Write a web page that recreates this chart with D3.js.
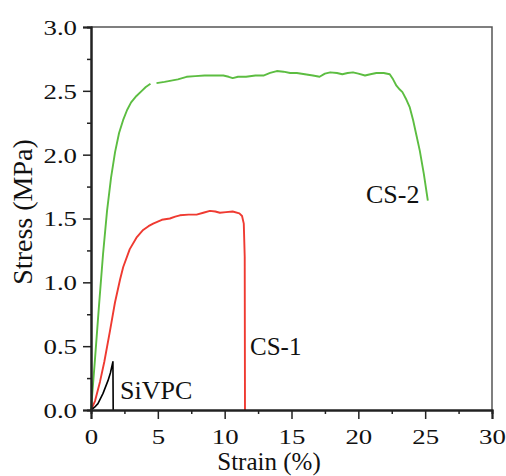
<!DOCTYPE html>
<html>
<head>
<meta charset="utf-8" />
<script src="https://d3js.org/d3.v7.min.js"></script>
<style>
  body { margin: 0; background: #fff; }
  svg text { font-family: "Liberation Serif", "Times New Roman", serif; fill: #111; }
</style>
</head>
<body>
<svg id="chart" width="506" height="476"></svg>
<script>
// CS-2 (green), null marks the small gap in the trace
var cs2Strain = [0, 0.3, 0.6, 0.9, 1.2, 1.5, 1.8, 2.1, 2.4, 2.7, 3.0, 3.4, 3.8, 4.1, 4.45, null,
  4.9, 5.5, 6.0, 6.5, 7.15, 7.8, 8.5, 9.3, 9.9, 10.3, 10.6, 11.0, 11.6, 12.3, 12.9, 13.4, 13.9,
  14.4, 14.9, 15.4, 16.0, 16.6, 17.1, 17.5, 17.9, 18.4, 18.8, 19.2, 19.6, 20.0, 20.5, 20.9,
  21.35, 21.9, 22.35, 22.6, 22.85, 23.1, 23.3, 23.6, 23.85, 24.1, 24.35, 24.6, 24.9, 25.2];
var cs2Stress = [0, 0.4, 0.82, 1.22, 1.56, 1.82, 2.02, 2.17, 2.27, 2.35, 2.41, 2.46, 2.5, 2.53, 2.555, null,
  2.56, 2.57, 2.58, 2.59, 2.61, 2.615, 2.62, 2.62, 2.62, 2.61, 2.6, 2.61, 2.61, 2.62, 2.62, 2.64, 2.655,
  2.65, 2.64, 2.64, 2.63, 2.62, 2.61, 2.635, 2.645, 2.64, 2.63, 2.64, 2.645, 2.635, 2.62, 2.63,
  2.64, 2.64, 2.63, 2.59, 2.54, 2.51, 2.49, 2.43, 2.37, 2.27, 2.15, 2.03, 1.85, 1.64];

// CS-1 (red)
var cs1Strain = [0, 0.3, 0.67, 1.0, 1.42, 1.79, 2.17, 2.41, 2.9, 3.4, 3.9, 4.3, 4.65, 5.3, 5.9,
  6.3, 6.65, 7.3, 7.9, 8.4, 8.9, 9.3, 9.64, 10.1, 10.6, 11.1, 11.3, 11.43, 11.5, 11.52];
var cs1Stress = [0, 0.07, 0.22, 0.38, 0.62, 0.84, 1.02, 1.12, 1.26, 1.35, 1.41, 1.44, 1.46, 1.49, 1.5,
  1.515, 1.525, 1.53, 1.53, 1.545, 1.56, 1.555, 1.545, 1.55, 1.555, 1.54, 1.52, 1.46, 1.2, 0];

// SiVPC (black)
var siStrain = [0, 0.25, 0.52, 0.9, 1.27, 1.45, 1.64, 1.66];
var siStress = [0, 0.02, 0.05, 0.13, 0.23, 0.29, 0.378, 0];

var xMajor = [0, 5, 10, 15, 20, 25, 30];
var xMinor = [2.5, 7.5, 12.5, 17.5, 22.5, 27.5];
var yMajor = [0, 0.5, 1.0, 1.5, 2.0, 2.5, 3.0];
var yMinor = [0.25, 0.75, 1.25, 1.75, 2.25, 2.75];

var series = [
  { name: "CS-2", x: cs2Strain, y: cs2Stress, color: "#5cbd41" },
  { name: "CS-1", x: cs1Strain, y: cs1Stress, color: "#ef3a31" },
  { name: "SiVPC", x: siStrain, y: siStress, color: "#000" }
];

var svg = d3.select("#chart"),
  margin = { top: 27, right: 14, bottom: 66, left: 91 },
  width = +svg.attr("width") - margin.left - margin.right,
  height = +svg.attr("height") - margin.top - margin.bottom;

var x = d3.scaleLinear().domain([0, 30]).range([margin.left, margin.left + width]);
var y = d3.scaleLinear().domain([0, 3]).range([margin.top + height, margin.top]);

// frame (top and right)
svg.append("path")
  .attr("d", "M" + x(0) + "," + y(3) + "H" + x(30) + "V" + y(0))
  .attr("fill", "none").attr("stroke", "#555").attr("stroke-width", 1.5);

// lines
var line = d3.line()
  .defined(function (d) { return d[0] !== null; })
  .x(function (d) { return x(d[0]); })
  .y(function (d) { return y(d[1]); });

series.forEach(function (s) {
  var pts = s.x.map(function (v, i) { return [v, s.y[i]]; });
  svg.append("path").datum(pts)
    .attr("fill", "none").attr("stroke", s.color)
    .attr("stroke-width", s.name === "SiVPC" ? 1.6 : 1.9)
    .attr("stroke-linejoin", "round")
    .attr("d", line);
});

// axes
var xg = svg.append("g").attr("transform", "translate(0," + y(0) + ")");
xg.call(d3.axisBottom(x).tickValues(xMinor).tickSize(4).tickFormat(""));
xg.append("g").call(d3.axisBottom(x).tickValues(xMajor).tickSize(9).tickPadding(6)
  .tickFormat(d3.format("d")));
var yg = svg.append("g").attr("transform", "translate(" + x(0) + ",0)");
yg.call(d3.axisLeft(y).tickValues(yMinor).tickSize(4).tickFormat(""));
yg.append("g").call(d3.axisLeft(y).tickValues(yMajor).tickSize(8).tickFormat(d3.format(".1f")));

svg.selectAll(".domain").attr("stroke", "#222").attr("stroke-width", 2);
svg.selectAll(".tick line").attr("stroke", "#222").attr("stroke-width", 1.5);

xg.selectAll(".tick text")
  .attr("font-size", 22).attr("y", 0).attr("dy", null)
  .attr("transform", "translate(0,34) scale(1.22,1)");
yg.selectAll(".tick text")
  .attr("font-size", 22).attr("x", 0).attr("dy", "0.34em")
  .attr("transform", "translate(-14,0) scale(1.22,1)");

// axis titles
svg.append("text")
  .attr("x", 269).attr("y", 470)
  .attr("text-anchor", "middle").attr("font-size", 25)
  .text("Strain (%)");
svg.append("text")
  .attr("transform", "translate(32,212) rotate(-90)")
  .attr("text-anchor", "middle").attr("font-size", 28)
  .text("Stress (MPa)");

// curve labels
svg.append("text").attr("x", 120).attr("y", 399).attr("font-size", 26).text("SiVPC");
svg.append("text").attr("x", 250).attr("y", 355).attr("font-size", 25).text("CS-1");
svg.append("text").attr("x", 366).attr("y", 203).attr("font-size", 26).text("CS-2");
</script>
</body>
</html>
